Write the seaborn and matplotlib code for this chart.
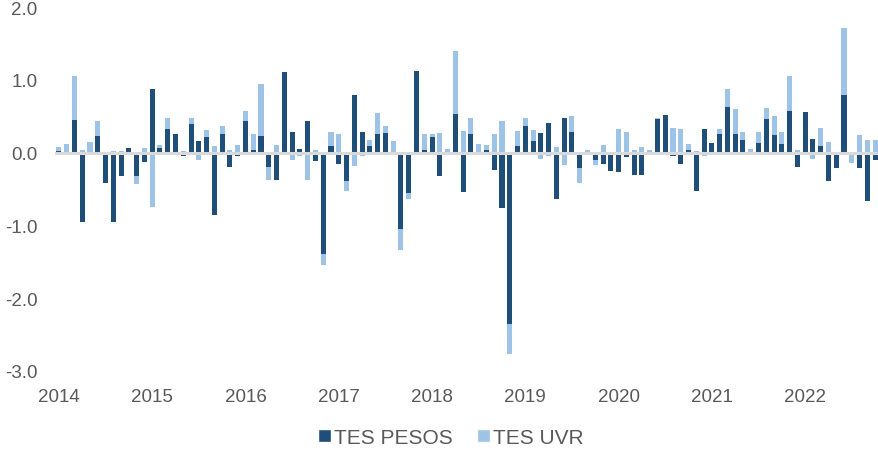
import numpy as np
import pandas as pd
import matplotlib
matplotlib.use('Agg')
import matplotlib.pyplot as plt
import seaborn as sns
from matplotlib.patches import Patch

# monthly series, Jan 2014 - Oct 2022
months = pd.period_range('2014-01', '2022-10', freq='M').strftime('%Y-%m').tolist()
years = ['2014', '2015', '2016', '2017', '2018', '2019', '2020', '2021', '2022']

pesos = [
    0.02, 0.00, 0.45, -0.95, -0.01, 0.23, -0.42, -0.95, -0.32, 0.07, -0.32, -0.13,
    0.87, 0.07, 0.32, 0.26, -0.04, 0.40, 0.16, 0.22, -0.86, 0.26, -0.19, -0.05,
    0.44, 0.04, 0.23, -0.19, -0.37, 1.11, 0.28, 0.05, 0.43, -0.11, -1.39, 0.09,
    -0.15, -0.39, 0.79, 0.29, 0.09, 0.25, 0.27, -0.03, -1.05, -0.55, 1.12, 0.04,
    0.21, -0.32, 0.00, 0.53, -0.54, 0.26, -0.02, 0.04, -0.24, -0.76, -2.35, 0.09,
    0.37, 0.16, 0.27, 0.41, -0.63, 0.48, 0.29, -0.21, 0.00, -0.10, -0.16, -0.25,
    -0.27, -0.06, -0.30, -0.31, 0.00, 0.46, 0.52, -0.05, -0.15, 0.03, -0.53, 0.33,
    0.13, 0.26, 0.63, 0.26, 0.18, -0.03, 0.13, 0.46, 0.24, 0.12, 0.57, -0.20,
    0.56, 0.19, 0.09, -0.39, -0.21, 0.79, 0.00, -0.21, -0.66, -0.10,
]
uvr = [
    0.06, 0.12, 0.60, 0.04, 0.15, 0.20, 0.00, 0.02, 0.02, 0.00, -0.11, 0.06,
    -0.74, 0.03, 0.15, 0.00, 0.02, 0.08, -0.10, 0.09, 0.09, 0.11, 0.03, 0.10,
    0.13, 0.21, 0.72, -0.19, 0.10, -0.03, -0.10, -0.04, -0.38, 0.04, -0.16, 0.19,
    0.25, -0.14, -0.18, -0.05, 0.08, 0.29, 0.10, 0.16, -0.29, -0.08, -0.02, 0.22,
    0.05, 0.27, 0.05, 0.87, 0.30, 0.21, 0.12, 0.06, 0.26, 0.43, -0.41, 0.21,
    0.11, 0.15, -0.09, -0.05, 0.08, -0.17, 0.22, -0.20, 0.04, -0.07, 0.10, 0.00,
    0.32, 0.29, 0.04, 0.08, 0.04, 0.02, 0.00, 0.34, 0.33, 0.09, 0.02, -0.05,
    0.00, 0.07, 0.25, 0.34, 0.11, 0.05, 0.16, 0.16, 0.27, 0.16, 0.49, 0.03,
    -0.03, -0.08, 0.25, 0.14, 0.00, 0.92, -0.14, 0.24, 0.18, 0.18,
]

df = pd.DataFrame({'mes': months, 'pesos': pesos, 'uvr': uvr})
# diverging stack: UVR sits on top of pesos when both have the same sign
same_sign = np.sign(df['pesos']) == np.sign(df['uvr'])
df['uvr_tope'] = np.where(same_sign, df['pesos'] + df['uvr'], df['uvr'])

dark = '#1F4E79'
light = '#9DC3E6'
gray_txt = '#595959'

sns.set_theme(style='white')
plt.rcParams['font.family'] = ['Liberation Sans', 'DejaVu Sans']
plt.rcParams['axes.unicode_minus'] = False

fig = plt.figure(figsize=(8.79, 4.52), dpi=100)
ax = fig.add_axes([0.0626, 0.177, 0.9374, 0.805])

sns.barplot(data=df, x='mes', y='uvr_tope', color=light, saturation=1,
            width=0.65, linewidth=0, ax=ax)
sns.barplot(data=df, x='mes', y='pesos', color=dark, saturation=1,
            width=0.65, linewidth=0, ax=ax)
ax.axhline(0, color='#D9D9D9', lw=2.2, zorder=5)

ax.set_xlim(-0.5, len(months) - 0.5)
ax.set_ylim(-3, 2)
ax.set_yticks(np.arange(-3, 2.01, 1.0))
ax.set_yticklabels([f'{v:.1f}' for v in np.arange(-3, 2.01, 1.0)])
ax.set_xticks(range(0, len(months), 12))
ax.set_xticklabels(years)
ax.set_xlabel('')
ax.set_ylabel('')
ax.tick_params(axis='both', length=0, labelsize=13.5, labelcolor=gray_txt, pad=12.5)
for s in ax.spines.values():
    s.set_visible(False)

handles = [Patch(facecolor=dark, label='TES PESOS'),
           Patch(facecolor=light, label='TES UVR')]
fig.legend(handles=handles, loc='center', bbox_to_anchor=(0.513, 0.03), ncol=2,
           frameon=False, fontsize=15, labelcolor=gray_txt, handlelength=0.6,
           handleheight=0.6, handletextpad=0.15, columnspacing=1.2,
           borderpad=0.1)

fig.savefig('out.png', dpi=100)
